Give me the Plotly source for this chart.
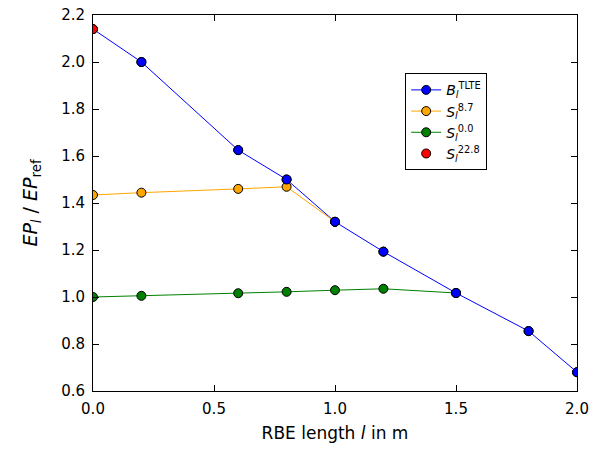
import plotly.graph_objects as go

# data
b_x = [0.0, 0.2, 0.6, 0.8, 1.0, 1.2, 1.5, 1.8, 2.0]
b_y = [2.14, 2.0, 1.625, 1.50, 1.32, 1.193, 1.017, 0.855, 0.68]
s87_x = [0.0, 0.2, 0.6, 0.8, 1.0]
s87_y = [1.434, 1.444, 1.46, 1.469, 1.32]
s00_x = [0.0, 0.2, 0.6, 0.8, 1.0, 1.2, 1.5]
s00_y = [1.0, 1.005, 1.016, 1.022, 1.029, 1.035, 1.017]
s228_x = [0.0]
s228_y = [2.14]

x_ticks = [0.0, 0.5, 1.0, 1.5, 2.0]
y_ticks = [0.6, 0.8, 1.0, 1.2, 1.4, 1.6, 1.8, 2.0, 2.2]

font = "DejaVu Sans"
mk = dict(size=9, line=dict(color="black", width=1))

fig = go.Figure()
fig.add_trace(go.Scatter(x=b_x, y=b_y, mode="lines+markers",
                         name="<i>B</i><sub><i>l</i></sub><sup>TLTE</sup>",
                         line=dict(color="#0000ff", width=1),
                         marker=dict(color="#0000ff", **mk)))
fig.add_trace(go.Scatter(x=s87_x, y=s87_y, mode="lines+markers",
                         name="<i>S</i><sub><i>l</i></sub><sup>8.7</sup>",
                         line=dict(color="#ffa500", width=1),
                         marker=dict(color="#ffa500", **mk)))
fig.add_trace(go.Scatter(x=s00_x, y=s00_y, mode="lines+markers",
                         name="<i>S</i><sub><i>l</i></sub><sup>0.0</sup>",
                         line=dict(color="#008000", width=1),
                         marker=dict(color="#008000", **mk)))
fig.add_trace(go.Scatter(x=s228_x, y=s228_y, mode="markers",
                         name="<i>S</i><sub><i>l</i></sub><sup>22.8</sup>",
                         marker=dict(color="#ff0000", **mk)))
# redraw blue markers on top where lines join
fig.add_trace(go.Scatter(x=b_x[1:], y=b_y[1:], mode="markers", showlegend=False,
                         marker=dict(color="#0000ff", **mk), hoverinfo="skip"))

axis_common = dict(showline=True, linecolor="black", linewidth=1, mirror="ticks",
                   ticks="inside", ticklen=6, tickcolor="black", showgrid=False,
                   zeroline=False, automargin=False, ticklabeloverflow="allow",
                   tickfont=dict(family=font, size=15, color="black"))

fig.update_layout(
    width=609, height=454,
    margin=dict(l=93, r=32, t=15, b=63),
    paper_bgcolor="white", plot_bgcolor="white",
    font=dict(family=font, color="black"),
    xaxis=dict(range=[0, 2.0], tickvals=x_ticks, ticktext=[f"{v:.1f}" for v in x_ticks],
               ticklabelstandoff=4,
               title=dict(text="RBE length <i>l</i> in m", font=dict(size=17), standoff=10),
               **axis_common),
    yaxis=dict(range=[0.6, 2.2], tickvals=y_ticks, ticktext=[f"{v:.1f}" for v in y_ticks],
               ticklabelstandoff=4,
               title=dict(text="<i>EP</i><sub><i>l</i></sub> / <i>EP</i><sub>ref</sub>", font=dict(size=19), standoff=18),
               **axis_common),
    legend=dict(x=0.645, y=0.845, xanchor="left", yanchor="top",
                bordercolor="black", borderwidth=1, bgcolor="white",
                font=dict(family=font, size=14), tracegroupgap=4),
)

fig.write_html("out.html", config={"displayModeBar": False},
               post_script="document.body.style.margin='0';document.body.style.padding='0';")
